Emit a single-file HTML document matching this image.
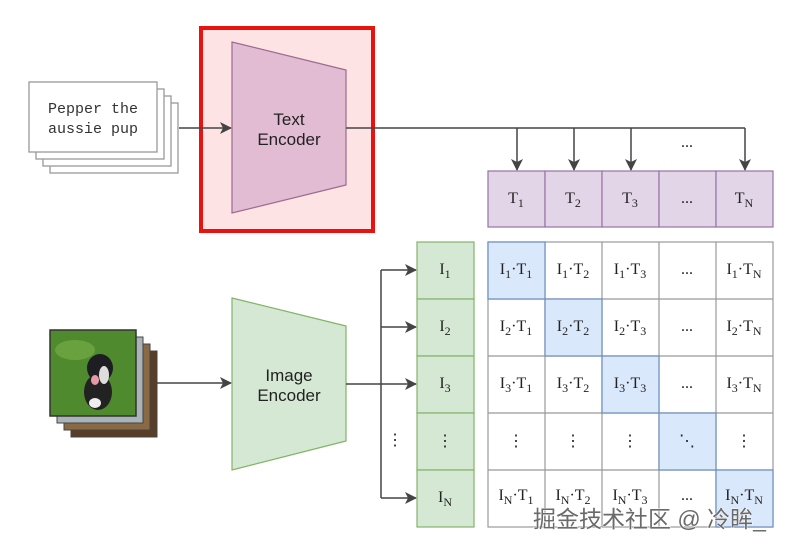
<!DOCTYPE html>
<html><head><meta charset="utf-8"><style>
html,body{margin:0;padding:0;background:#fff;width:800px;height:550px;overflow:hidden}
svg{display:block}
.c{font-family:"Liberation Serif",serif;font-size:16px;fill:#222;text-anchor:middle}
.s{font-size:12px}
</style></head><body>
<svg width="800" height="550" viewBox="0 0 800 550">
<defs><marker id="a" markerWidth="12" markerHeight="12" refX="11" refY="6" orient="auto" markerUnits="userSpaceOnUse"><path d="M0,0 L12,6 L0,12 L3,6 z" fill="#444"/></marker></defs>
<g fill="#fff" stroke="#999" stroke-width="1.3">
<rect x="50" y="103" width="128" height="70"/><rect x="43" y="96" width="128" height="70"/><rect x="36" y="89" width="128" height="70"/><rect x="29" y="82" width="128" height="70"/>
</g>
<text x="93" y="113" font-family="Liberation Mono,monospace" font-size="15" text-anchor="middle" fill="#333">Pepper the</text>
<text x="93" y="133" font-family="Liberation Mono,monospace" font-size="15" text-anchor="middle" fill="#333">aussie pup</text>
<rect x="201" y="28" width="172" height="203" fill="#fde3e3" stroke="#e8120f" stroke-width="4"/>
<line x1="179" y1="128" x2="231" y2="128" stroke="#444" stroke-width="1.5" marker-end="url(#a)"/>
<polygon points="232,42 346,70 346,185 232,213" fill="#e2bcd3" stroke="#9c6b8f" stroke-width="1.2"/>
<text x="289" y="125" font-family="Liberation Sans,sans-serif" font-size="17" text-anchor="middle" fill="#222">Text</text>
<text x="289" y="145" font-family="Liberation Sans,sans-serif" font-size="17" text-anchor="middle" fill="#222">Encoder</text>
<polyline points="346,128 745,128" fill="none" stroke="#444" stroke-width="1.5"/>
<g stroke="#444" stroke-width="1.5">
<line x1="517" y1="128" x2="517" y2="170" marker-end="url(#a)"/><line x1="574" y1="128" x2="574" y2="170" marker-end="url(#a)"/><line x1="631" y1="128" x2="631" y2="170" marker-end="url(#a)"/><line x1="745" y1="128" x2="745" y2="170" marker-end="url(#a)"/>
</g>
<text x="687" y="147" class="c" font-size="13">...</text>
<g fill="#e1d5e7" stroke="#9673a6" stroke-width="1.2">
<rect x="488" y="171" width="57" height="56"/><rect x="545" y="171" width="57" height="56"/><rect x="602" y="171" width="57" height="56"/><rect x="659" y="171" width="57" height="56"/><rect x="716" y="171" width="57" height="56"/>
</g>
<text x="516" y="203" class="c">T<tspan class="s" dy="4">1</tspan></text>
<text x="573" y="203" class="c">T<tspan class="s" dy="4">2</tspan></text>
<text x="630" y="203" class="c">T<tspan class="s" dy="4">3</tspan></text>
<text x="687" y="203" class="c" font-size="13">...</text>
<text x="744" y="203" class="c">T<tspan class="s" dy="4">N</tspan></text>
<rect x="71" y="351" width="86" height="86" fill="#5a3d26" stroke="#444"/>
<rect x="64" y="344" width="86" height="86" fill="#8a6a45" stroke="#444"/>
<rect x="57" y="337" width="86" height="86" fill="#a9b3b8" stroke="#444"/>
<rect x="50" y="330" width="86" height="86" fill="#4f8a2e" stroke="#333" stroke-width="1.5"/>
<ellipse cx="75" cy="350" rx="20" ry="10" fill="#7cb04a" opacity=".6"/>
<ellipse cx="100" cy="368" rx="13" ry="14" fill="#1d1d22"/>
<ellipse cx="98" cy="392" rx="14" ry="18" fill="#222"/>
<ellipse cx="95" cy="380" rx="4" ry="5" fill="#e79aa6"/>
<ellipse cx="95" cy="403" rx="6" ry="5" fill="#eee"/>
<ellipse cx="104" cy="375" rx="5" ry="9" fill="#ddd"/>
<line x1="157" y1="383" x2="231" y2="383" stroke="#444" stroke-width="1.5" marker-end="url(#a)"/>
<polygon points="232,298 346,326 346,441 232,470" fill="#d5e8d4" stroke="#82b366" stroke-width="1.2"/>
<text x="289" y="381" font-family="Liberation Sans,sans-serif" font-size="17" text-anchor="middle" fill="#222">Image</text>
<text x="289" y="401" font-family="Liberation Sans,sans-serif" font-size="17" text-anchor="middle" fill="#222">Encoder</text>
<g stroke="#444" stroke-width="1.5" fill="none">
<line x1="346" y1="384" x2="381" y2="384"/>
<line x1="381" y1="270" x2="381" y2="498"/>
<line x1="381" y1="270" x2="416" y2="270" marker-end="url(#a)"/>
<line x1="381" y1="327" x2="416" y2="327" marker-end="url(#a)"/>
<line x1="381" y1="384" x2="416" y2="384" marker-end="url(#a)"/>
<line x1="381" y1="498" x2="416" y2="498" marker-end="url(#a)"/>
</g>
<text x="395" y="445" class="c" font-size="13">⋮</text>
<g fill="#d5e8d4" stroke="#82b366" stroke-width="1.2">
<rect x="417" y="242" width="57" height="57"/><rect x="417" y="299" width="57" height="57"/><rect x="417" y="356" width="57" height="57"/><rect x="417" y="413" width="57" height="57"/><rect x="417" y="470" width="57" height="57"/>
</g>
<text x="445" y="274" class="c">I<tspan class="s" dy="4">1</tspan></text>
<text x="445" y="331" class="c">I<tspan class="s" dy="4">2</tspan></text>
<text x="445" y="388" class="c">I<tspan class="s" dy="4">3</tspan></text>
<text x="445" y="446" class="c" font-size="13">⋮</text>
<text x="445" y="502" class="c">I<tspan class="s" dy="4">N</tspan></text>
<rect x="488" y="242" width="285" height="285" fill="#fff" stroke="#999" stroke-width="1.2"/>
<g stroke="#999" stroke-width="1.2">
<line x1="545" y1="242" x2="545" y2="527"/><line x1="602" y1="242" x2="602" y2="527"/><line x1="659" y1="242" x2="659" y2="527"/><line x1="716" y1="242" x2="716" y2="527"/>
<line x1="488" y1="299" x2="773" y2="299"/><line x1="488" y1="356" x2="773" y2="356"/><line x1="488" y1="413" x2="773" y2="413"/><line x1="488" y1="470" x2="773" y2="470"/>
</g>
<g fill="#dae8fc" stroke="#6c8ebf" stroke-width="1.2">
<rect x="488" y="242" width="57" height="57"/><rect x="545" y="299" width="57" height="57"/><rect x="602" y="356" width="57" height="57"/><rect x="659" y="413" width="57" height="57"/><rect x="716" y="470" width="57" height="57"/>
</g>
<g>
<text x="516" y="274" class="c">I<tspan class="s" dy="4">1</tspan><tspan dy="-4">·T</tspan><tspan class="s" dy="4">1</tspan></text>
<text x="573" y="274" class="c">I<tspan class="s" dy="4">1</tspan><tspan dy="-4">·T</tspan><tspan class="s" dy="4">2</tspan></text>
<text x="630" y="274" class="c">I<tspan class="s" dy="4">1</tspan><tspan dy="-4">·T</tspan><tspan class="s" dy="4">3</tspan></text>
<text x="687" y="274" class="c" font-size="13">...</text>
<text x="744" y="274" class="c">I<tspan class="s" dy="4">1</tspan><tspan dy="-4">·T</tspan><tspan class="s" dy="4">N</tspan></text>
<text x="516" y="331" class="c">I<tspan class="s" dy="4">2</tspan><tspan dy="-4">·T</tspan><tspan class="s" dy="4">1</tspan></text>
<text x="573" y="331" class="c">I<tspan class="s" dy="4">2</tspan><tspan dy="-4">·T</tspan><tspan class="s" dy="4">2</tspan></text>
<text x="630" y="331" class="c">I<tspan class="s" dy="4">2</tspan><tspan dy="-4">·T</tspan><tspan class="s" dy="4">3</tspan></text>
<text x="687" y="331" class="c" font-size="13">...</text>
<text x="744" y="331" class="c">I<tspan class="s" dy="4">2</tspan><tspan dy="-4">·T</tspan><tspan class="s" dy="4">N</tspan></text>
<text x="516" y="388" class="c">I<tspan class="s" dy="4">3</tspan><tspan dy="-4">·T</tspan><tspan class="s" dy="4">1</tspan></text>
<text x="573" y="388" class="c">I<tspan class="s" dy="4">3</tspan><tspan dy="-4">·T</tspan><tspan class="s" dy="4">2</tspan></text>
<text x="630" y="388" class="c">I<tspan class="s" dy="4">3</tspan><tspan dy="-4">·T</tspan><tspan class="s" dy="4">3</tspan></text>
<text x="687" y="388" class="c" font-size="13">...</text>
<text x="744" y="388" class="c">I<tspan class="s" dy="4">3</tspan><tspan dy="-4">·T</tspan><tspan class="s" dy="4">N</tspan></text>
<text x="516" y="446" class="c" font-size="13">⋮</text>
<text x="573" y="446" class="c" font-size="13">⋮</text>
<text x="630" y="446" class="c" font-size="13">⋮</text>
<text x="687" y="446" class="c" font-size="13">⋱</text>
<text x="744" y="446" class="c" font-size="13">⋮</text>
<text x="516" y="500" class="c">I<tspan class="s" dy="4">N</tspan><tspan dy="-4">·T</tspan><tspan class="s" dy="4">1</tspan></text>
<text x="573" y="500" class="c">I<tspan class="s" dy="4">N</tspan><tspan dy="-4">·T</tspan><tspan class="s" dy="4">2</tspan></text>
<text x="630" y="500" class="c">I<tspan class="s" dy="4">N</tspan><tspan dy="-4">·T</tspan><tspan class="s" dy="4">3</tspan></text>
<text x="687" y="500" class="c" font-size="13">...</text>
<text x="744" y="500" class="c">I<tspan class="s" dy="4">N</tspan><tspan dy="-4">·T</tspan><tspan class="s" dy="4">N</tspan></text>
</g>
<text x="533" y="527" font-family="'Liberation Sans','Noto Sans CJK SC',sans-serif" font-size="23" fill="#6a6a6a" stroke="#fff" stroke-width="0.9" paint-order="stroke">掘金技术社区 @ 冷眸_</text>
</svg>
</body></html>
